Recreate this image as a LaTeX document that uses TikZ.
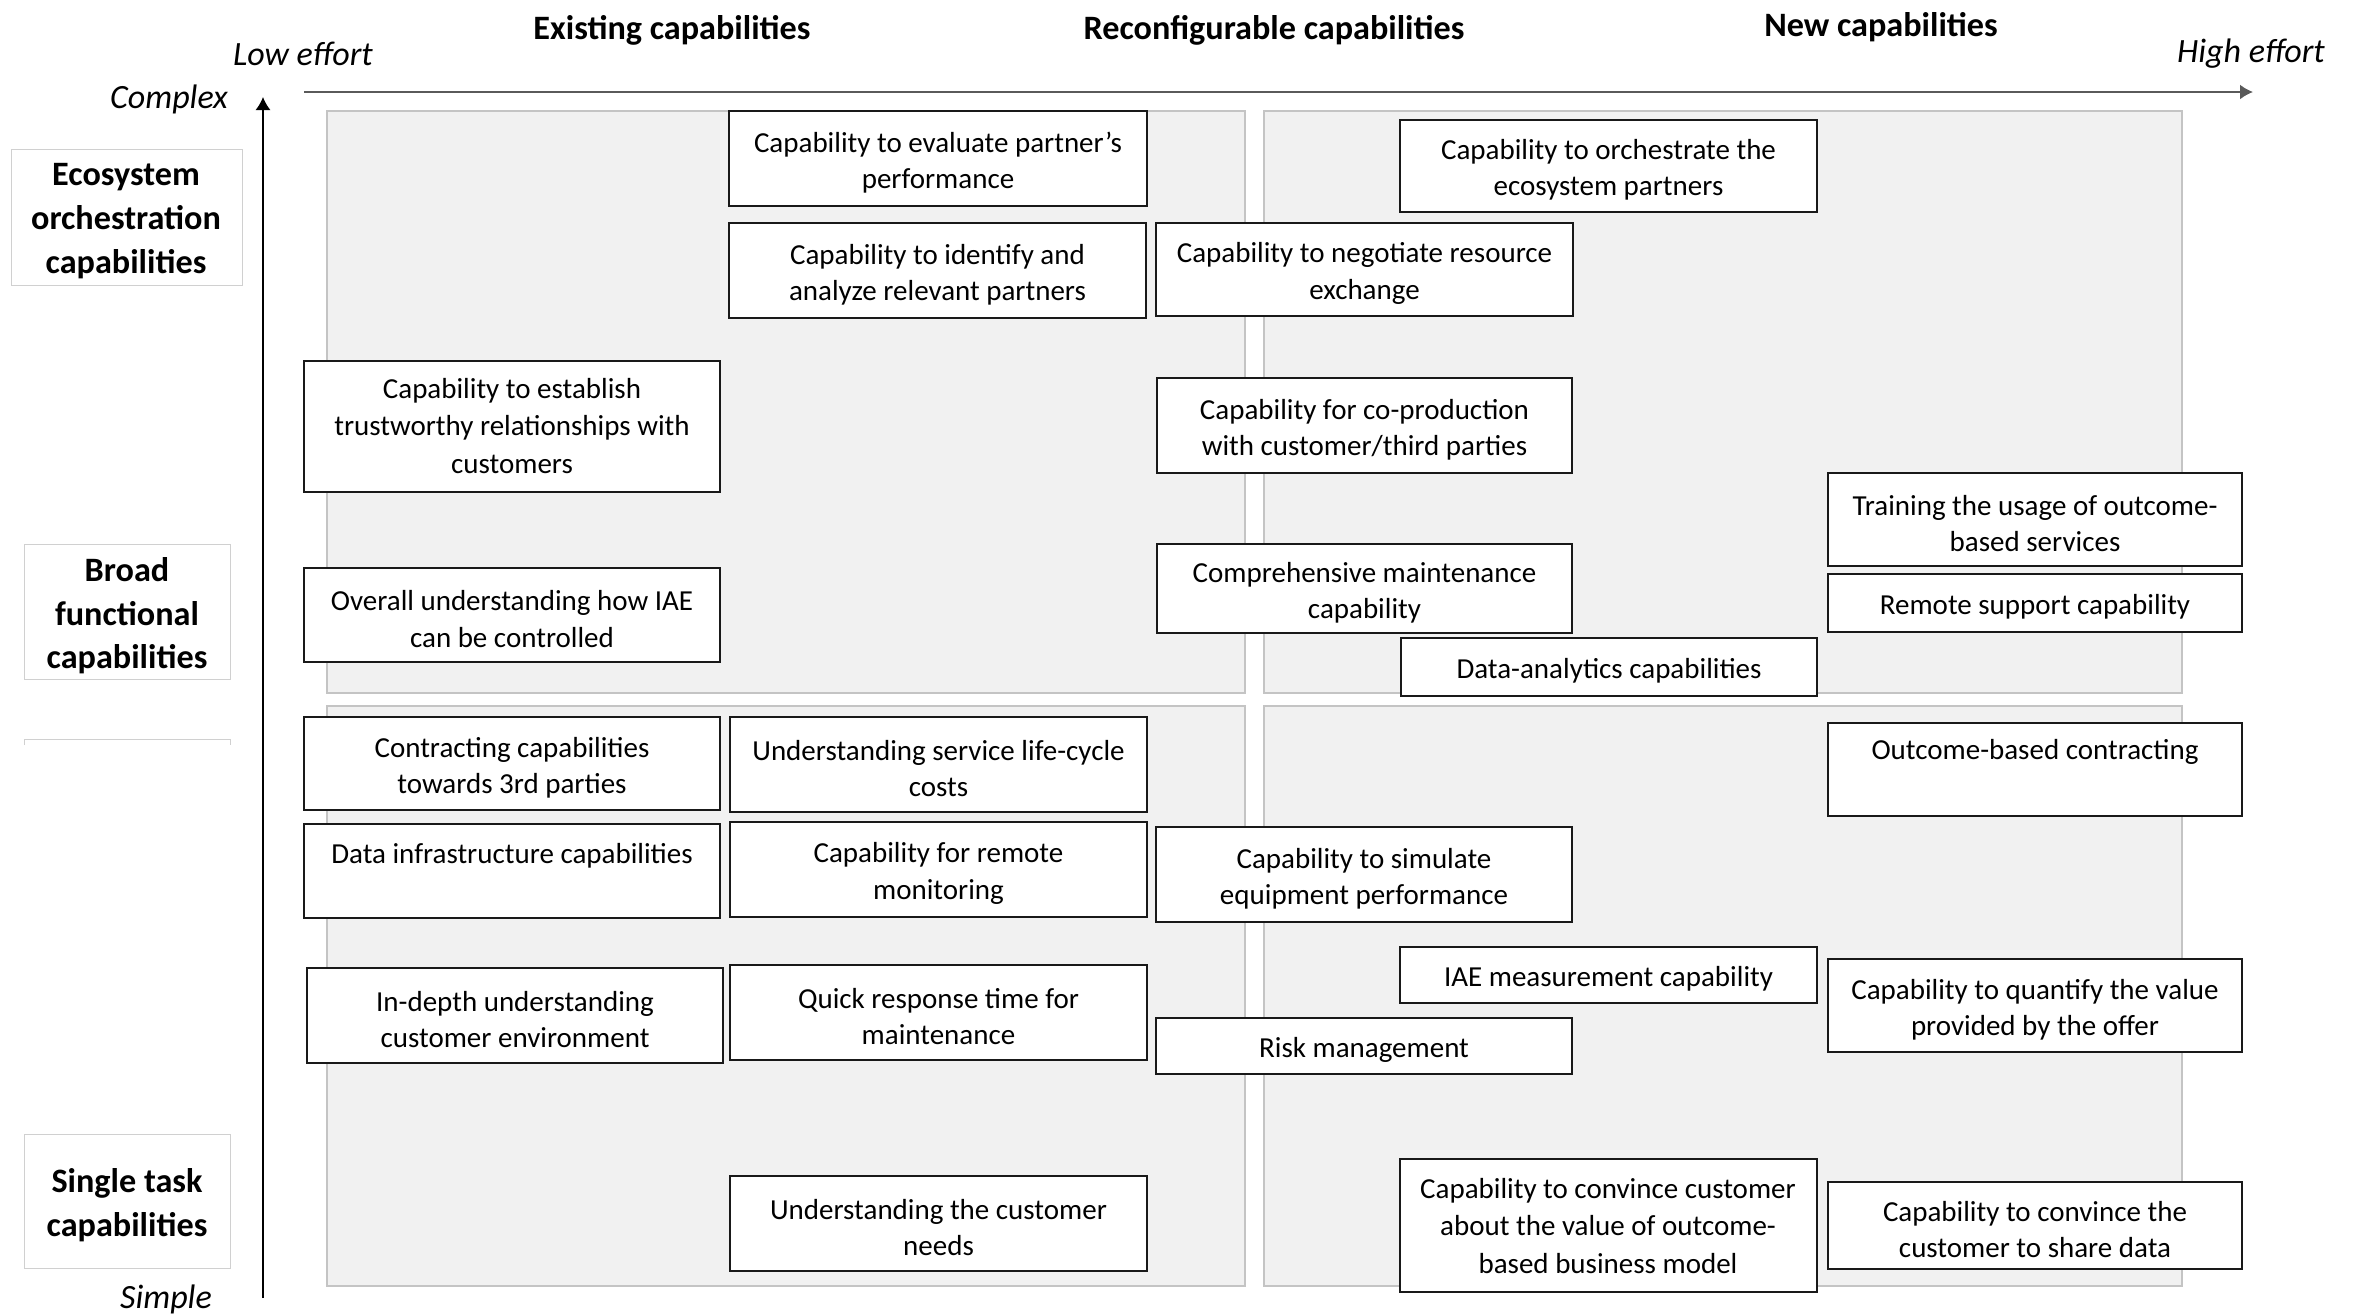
\documentclass[tikz,border=0pt]{standalone}
\usepackage{fontspec}
\setmainfont{Carlito}
\usetikzlibrary{arrows.meta}
\definecolor{panelfill}{HTML}{F1F1F1}
\definecolor{panelline}{HTML}{C4C4C4}
\definecolor{lablines}{HTML}{D0D0D0}
\definecolor{axisgray}{HTML}{5A5A5A}
\tikzset{
  capbox/.style={draw=black!90, line width=1pt, fill=white, inner sep=0pt},
  captext/.style={align=center, inner sep=0pt, font=\fontsize{14.5}{18.2}\selectfont},
  levelbox/.style={draw=lablines, line width=0.5pt, fill=white, inner sep=0pt},
  leveltext/.style={align=center, inner sep=0pt, font=\fontsize{17.1}{21.8}\selectfont\bfseries},
  panel/.style={draw=panelline, line width=0.7pt, fill=panelfill, inner sep=0pt},
  heading/.style={inner sep=0pt, font=\fontsize{17.1}{20}\selectfont\bfseries},
  axislabel/.style={inner sep=0pt, font=\fontsize{17}{19}\selectfont\itshape},
  axisline/.style={draw=axisgray, line width=1pt, -{Latex[length=6.5pt,width=7.5pt]}},
}
% rectangle node given by its corners (x1,y1)-(x2,y2) in pixel units
\newcommand\rectnode[6]{%
  \pgfmathsetmacro\bw{(#5-#3)*0.5}%
  \pgfmathsetmacro\bh{(#6-#4)*0.5}%
  \node[#1, minimum width=\bw pt, minimum height=\bh pt] (#2) at ({(#3+#5)/2},{(#4+#6)/2}) {};%
}
% framed capability: box plus its centred text
\newcommand\capnode[6]{%
  \rectnode{capbox}{#1}{#2}{#3}{#4}{#5}%
  \node[captext] (#1t) at ({(#2+#4)/2},{(#3+#5)/2+4}) {#6};%
}
\begin{document}
\begin{tikzpicture}[x=0.5pt, y=-0.5pt]
\useasboundingbox (0,0) rectangle (2361,1313);

% quadrant panels
\rectnode{panel}{p11}{327}{111}{1245}{693}
\rectnode{panel}{p12}{1264}{111}{2182}{693}
\rectnode{panel}{p21}{327}{706}{1245}{1286}
\rectnode{panel}{p22}{1264}{706}{2182}{1286}

% axes
\coordinate (xs) at (304,92);
\coordinate (xe) at (2253,92);
\coordinate (ys) at (263,1298);
\coordinate (ye) at (263,97);
\draw[axisline] (xs) -- (xe);
\draw[axisline, draw=black, line width=0.75pt] (ys) -- (ye);

\node[axislabel] (low) at (303,54) {Low effort};
\node[axislabel] (high) at (2251,54) {High effort};
\node[axislabel] (cplx) at (169,99) {Complex};
\node[axislabel] (smpl) at (166,1299) {Simple};

\node[heading] (h1) at (672,30) {Existing capabilities};
\node[heading] (h2) at (1274,30) {Reconfigurable capabilities};
\node[heading] (h3) at (1881,27) {New capabilities};

% capability levels
\rectnode{levelbox}{eco}{11}{149}{242}{285}
\node[leveltext] (ecot) at (126,221) {Ecosystem\\orchestration\\capabilities};
\rectnode{levelbox}{broad}{24}{544}{230}{679}
\node[leveltext] (broadt) at (127,616) {Broad\\functional\\capabilities};
\rectnode{levelbox}{single}{24}{1134}{230}{1268}
\node[leveltext] (singlet) at (127,1205) {Single task\\capabilities};
\coordinate (st1) at (24,745);
\coordinate (st2) at (24,739);
\coordinate (st3) at (230,739);
\coordinate (st4) at (230,745);
\draw[draw=lablines, line width=0.5pt] (st1) -- (st2) -- (st3) -- (st4);

% capabilities
\capnode{c1}{729}{111}{1147}{206}{Capability to evaluate partner's\\performance}
\capnode{c2}{729}{223}{1146}{318}{Capability to identify and\\analyze relevant partners}
\capnode{c3}{1400}{120}{1817}{212}{Capability to orchestrate the\\ecosystem partners}
\capnode{c4}{1156}{223}{1573}{316}{Capability to negotiate resource\\exchange}
\rectnode{capbox}{c5}{304}{361}{720}{492}
\node[captext, font=\fontsize{14.5}{18.8}\selectfont] (c5t) at (512,426) {Capability to establish\\trustworthy relationships with\\customers};
\capnode{c6}{1157}{378}{1572}{473}{Capability for co-production\\with customer/third parties}
\capnode{c7}{1828}{473}{2242}{566}{Training the usage of outcome-\\based services}
\capnode{c8}{1828}{574}{2242}{632}{Remote support capability}
\capnode{c9}{304}{568}{720}{662}{Overall understanding how IAE\\can be controlled}
\capnode{c10}{1157}{544}{1572}{633}{Comprehensive maintenance\\capability}
\capnode{c11}{1401}{638}{1817}{696}{Data-analytics capabilities}
\capnode{c12}{304}{717}{720}{810}{Contracting capabilities\\towards 3rd parties}
\capnode{c13}{730}{717}{1147}{812}{Understanding service life-cycle\\costs}
\rectnode{capbox}{c14}{1828}{723}{2242}{816}
\node[captext] (c14t) at (2035,752) {Outcome-based contracting};
\rectnode{capbox}{c15}{304}{824}{720}{918}
\node[captext] (c15t) at (512,856) {Data infrastructure capabilities};
\capnode{c16}{730}{822}{1147}{917}{Capability for remote\\monitoring}
\capnode{c17}{1156}{827}{1572}{922}{Capability to simulate\\equipment performance}
\capnode{c18}{1400}{947}{1817}{1003}{IAE measurement capability}
\capnode{c19}{307}{968}{723}{1063}{In-depth understanding\\customer environment}
\capnode{c20}{730}{965}{1147}{1060}{Quick response time for\\maintenance}
\capnode{c21}{1828}{959}{2242}{1052}{Capability to quantify the value\\provided by the offer}
\capnode{c22}{1156}{1018}{1572}{1074}{Risk management}
\capnode{c23}{730}{1176}{1147}{1271}{Understanding the customer\\needs}
\rectnode{capbox}{c24}{1400}{1159}{1817}{1292}
\node[captext, font=\fontsize{14.5}{18.8}\selectfont] (c24t) at (1608,1226) {Capability to convince customer\\about the value of outcome-\\based business model};
\capnode{c25}{1828}{1182}{2242}{1269}{Capability to convince the\\customer to share data}
\end{tikzpicture}
\end{document}
